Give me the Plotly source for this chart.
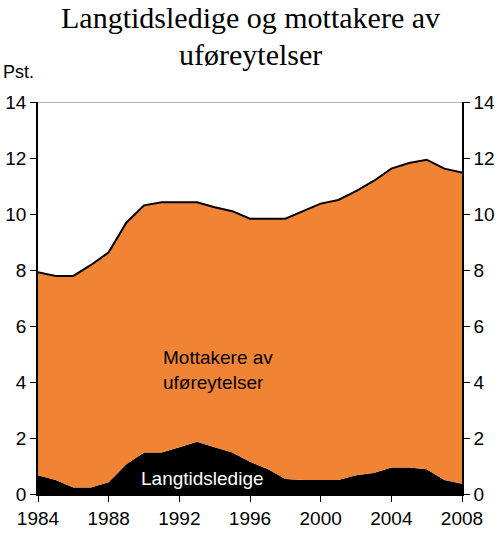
import plotly.graph_objects as go

years = list(range(1984, 2009))
langtidsledige = [0.67, 0.50, 0.23, 0.23, 0.42, 1.06, 1.48, 1.48, 1.67, 1.87,
                  1.67, 1.48, 1.15, 0.89, 0.54, 0.50, 0.50, 0.50, 0.67, 0.75,
                  0.95, 0.95, 0.88, 0.50, 0.37]
ufore = [7.25, 7.29, 7.56, 7.95, 8.21, 8.63, 8.83, 8.94, 8.75, 8.55,
         8.57, 8.62, 8.68, 8.94, 9.29, 9.60, 9.87, 10.00, 10.15, 10.43,
         10.67, 10.87, 11.06, 11.12, 11.11]
xticks = [1984, 1988, 1992, 1996, 2000, 2004, 2008]
yticks = [0, 2, 4, 6, 8, 10, 12, 14]

fig = go.Figure()
fig.add_trace(go.Scatter(x=years, y=langtidsledige, stackgroup="one",
                         mode="lines", line=dict(width=0, color="black"),
                         fillcolor="black", name="Langtidsledige"))
fig.add_trace(go.Scatter(x=years, y=ufore, stackgroup="one",
                         mode="lines", line=dict(width=2, color="black"),
                         fillcolor="#F08434", name="Mottakere av uføreytelser"))
# dummy trace so the right axis is drawn
fig.add_trace(go.Scatter(x=[1984], y=[0], yaxis="y2", mode="markers",
                         marker=dict(opacity=0), showlegend=False, hoverinfo="skip"))

axis_font = dict(family="Liberation Sans, Arial", size=19, color="black")
title_font = dict(family="Liberation Serif, Times New Roman", size=30, color="black")
fig.update_layout(
    width=500, height=536,
    margin=dict(l=38, r=38, t=102, b=42),
    paper_bgcolor="white", plot_bgcolor="white",
    showlegend=False,
    xaxis=dict(range=[1984, 2008], tickvals=xticks, ticks="outside", ticklen=6,
               tickcolor="black", showline=True, linecolor="black", linewidth=1.5,
               showgrid=False, zeroline=False, tickfont=axis_font, automargin=False),
    yaxis=dict(range=[0, 14], tickvals=yticks, ticks="outside", ticklen=6,
               tickcolor="black", showline=True, linecolor="black", linewidth=1.5,
               showgrid=False, zeroline=False, tickfont=axis_font, automargin=False),
    yaxis2=dict(range=[0, 14], tickvals=yticks, ticks="outside", ticklen=6,
                tickcolor="black", showline=True, linecolor="black", linewidth=1.5,
                showgrid=False, zeroline=False, tickfont=axis_font, automargin=False,
                overlaying="y", side="right"),
    shapes=[dict(type="line", xref="paper", yref="y", x0=0, x1=1, y0=14, y1=14,
                 line=dict(color="#999999", width=1.5))],
    annotations=[
        # title as two lines
        dict(text="Langtidsledige og mottakere av", xref="paper", yref="paper",
             x=0.5, y=1.2143, xanchor="center", yanchor="middle", showarrow=False,
             font=title_font),
        dict(text="uføreytelser", xref="paper", yref="paper",
             x=0.5, y=1.1199, xanchor="center", yanchor="middle", showarrow=False,
             font=title_font),
        dict(text="Pst.", xref="paper", yref="paper", x=-0.087, y=1.045,
             xanchor="left", yanchor="bottom", showarrow=False,
             font=dict(family="Liberation Sans, Arial", size=18, color="black")),
        dict(text="Mottakere av<br>uføreytelser", x=1994.2, y=4.43, xanchor="center",
             yanchor="middle", showarrow=False, align="left",
             font=dict(family="Liberation Sans, Arial", size=19, color="black")),
        dict(text="Langtidsledige", x=1993.3, y=0.57, xanchor="center",
             yanchor="middle", showarrow=False,
             font=dict(family="Liberation Sans, Arial", size=19, color="white")),
    ],
)

# the page body has a default 8px margin, drop it so the figure sits at 0,0
fig.write_html("out.html", config={"displayModeBar": False},
               post_script="document.body.style.margin='0';")
